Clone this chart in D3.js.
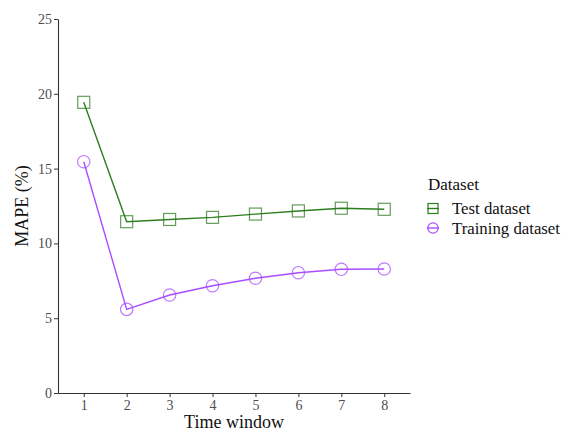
<!DOCTYPE html>
<html><head><meta charset="utf-8">
<script src="https://cdn.jsdelivr.net/npm/d3@7"></script>
<style>body{margin:0;background:#fff}svg{display:block}</style>
</head><body>
<script>
const timeWindows = [1,2,3,4,5,6,7,8];
const testValues = [19.43, 11.45, 11.6, 11.74, 11.96, 12.17, 12.35, 12.28];
const trainValues = [15.46, 5.59, 6.55, 7.17, 7.67, 8.04, 8.27, 8.29];
const yTicks = [0,5,10,15,20,25];
const seriesNames = ["Test dataset","Training dataset"];

const W=569,H=432;
const m={l:58,r:159,t:19,b:39};
const svg=d3.select("body").append("svg").attr("width",W).attr("height",H);
const font="'Liberation Serif','Times New Roman',serif";
const x=d3.scaleLinear().domain([0.4,8.6]).range([m.l,W-m.r]);
const y=d3.scaleLinear().domain([0,25]).range([H-m.b,m.t]);

const xa=svg.append("g").attr("transform",`translate(0,${H-m.b})`)
 .call(d3.axisBottom(x).tickValues(timeWindows).tickFormat(d3.format("d")).tickSize(4).tickSizeOuter(0).tickPadding(3));
const ya=svg.append("g").attr("transform",`translate(${m.l},0)`)
 .call(d3.axisLeft(y).tickValues(yTicks).tickSize(4).tickSizeOuter(0).tickPadding(2));
[xa,ya].forEach(g=>{
 g.select(".domain").attr("stroke","#333").attr("stroke-width",1.1);
 g.selectAll(".tick line").attr("stroke","#333");
 g.selectAll(".tick text").attr("fill","#4d4d4d").style("font-family",font).style("font-size","14px");
});

svg.append("text").attr("x",(m.l+W-m.r)/2).attr("y",H-4).attr("text-anchor","middle")
 .style("font-family",font).style("font-size","18px").attr("fill","#111").text("Time window");
svg.append("text").attr("transform",`translate(28,${(m.t+H-m.b)/2}) rotate(-90)`).attr("text-anchor","middle")
 .style("font-family",font).style("font-size","18px").attr("fill","#111").text("MAPE (%)");

const series=[
 {name:seriesNames[0],vals:testValues,color:"#2e7d1f",shape:"square"},
 {name:seriesNames[1],vals:trainValues,color:"#aa4dff",shape:"circle"}
];
const line=d3.line().x((d,i)=>x(timeWindows[i])).y(d=>y(d));
function marker(g,shape,cx,cy,color){
 if(shape==="square") g.append("rect").attr("x",cx-6).attr("y",cy-6).attr("width",12).attr("height",12)
   .attr("fill","none").attr("stroke",color).attr("stroke-width",1.2).attr("opacity",0.75);
 else g.append("circle").attr("cx",cx).attr("cy",cy).attr("r",6.2)
   .attr("fill","none").attr("stroke",color).attr("stroke-width",1.2).attr("opacity",0.75);
}
series.forEach(s=>{
 svg.append("path").datum(s.vals).attr("d",line).attr("fill","none").attr("stroke",s.color).attr("stroke-width",1.4);
 const g=svg.append("g");
 s.vals.forEach((v,i)=>marker(g,s.shape,x(timeWindows[i]),y(v),s.color));
});

// legend
const lg=svg.append("g");
lg.append("text").attr("x",428).attr("y",190).style("font-family",font).style("font-size","17px").attr("fill","#111").text("Dataset");
series.forEach((s,i)=>{
 const cy=208.5+i*19.5;
 lg.append("line").attr("x1",427).attr("x2",439).attr("y1",cy).attr("y2",cy).attr("stroke",s.color).attr("stroke-width",1.4);
 if(s.shape==="square") lg.append("rect").attr("x",428).attr("y",cy-5).attr("width",10).attr("height",10).attr("fill","none").attr("stroke",s.color).attr("stroke-width",1.2);
 else lg.append("circle").attr("cx",433).attr("cy",cy).attr("r",5.2).attr("fill","none").attr("stroke",s.color).attr("stroke-width",1.2);
 lg.append("text").attr("x",452).attr("y",cy+5.5).style("font-family",font).style("font-size","16.8px").attr("fill","#111").text(s.name);
});
</script>
</body></html>
